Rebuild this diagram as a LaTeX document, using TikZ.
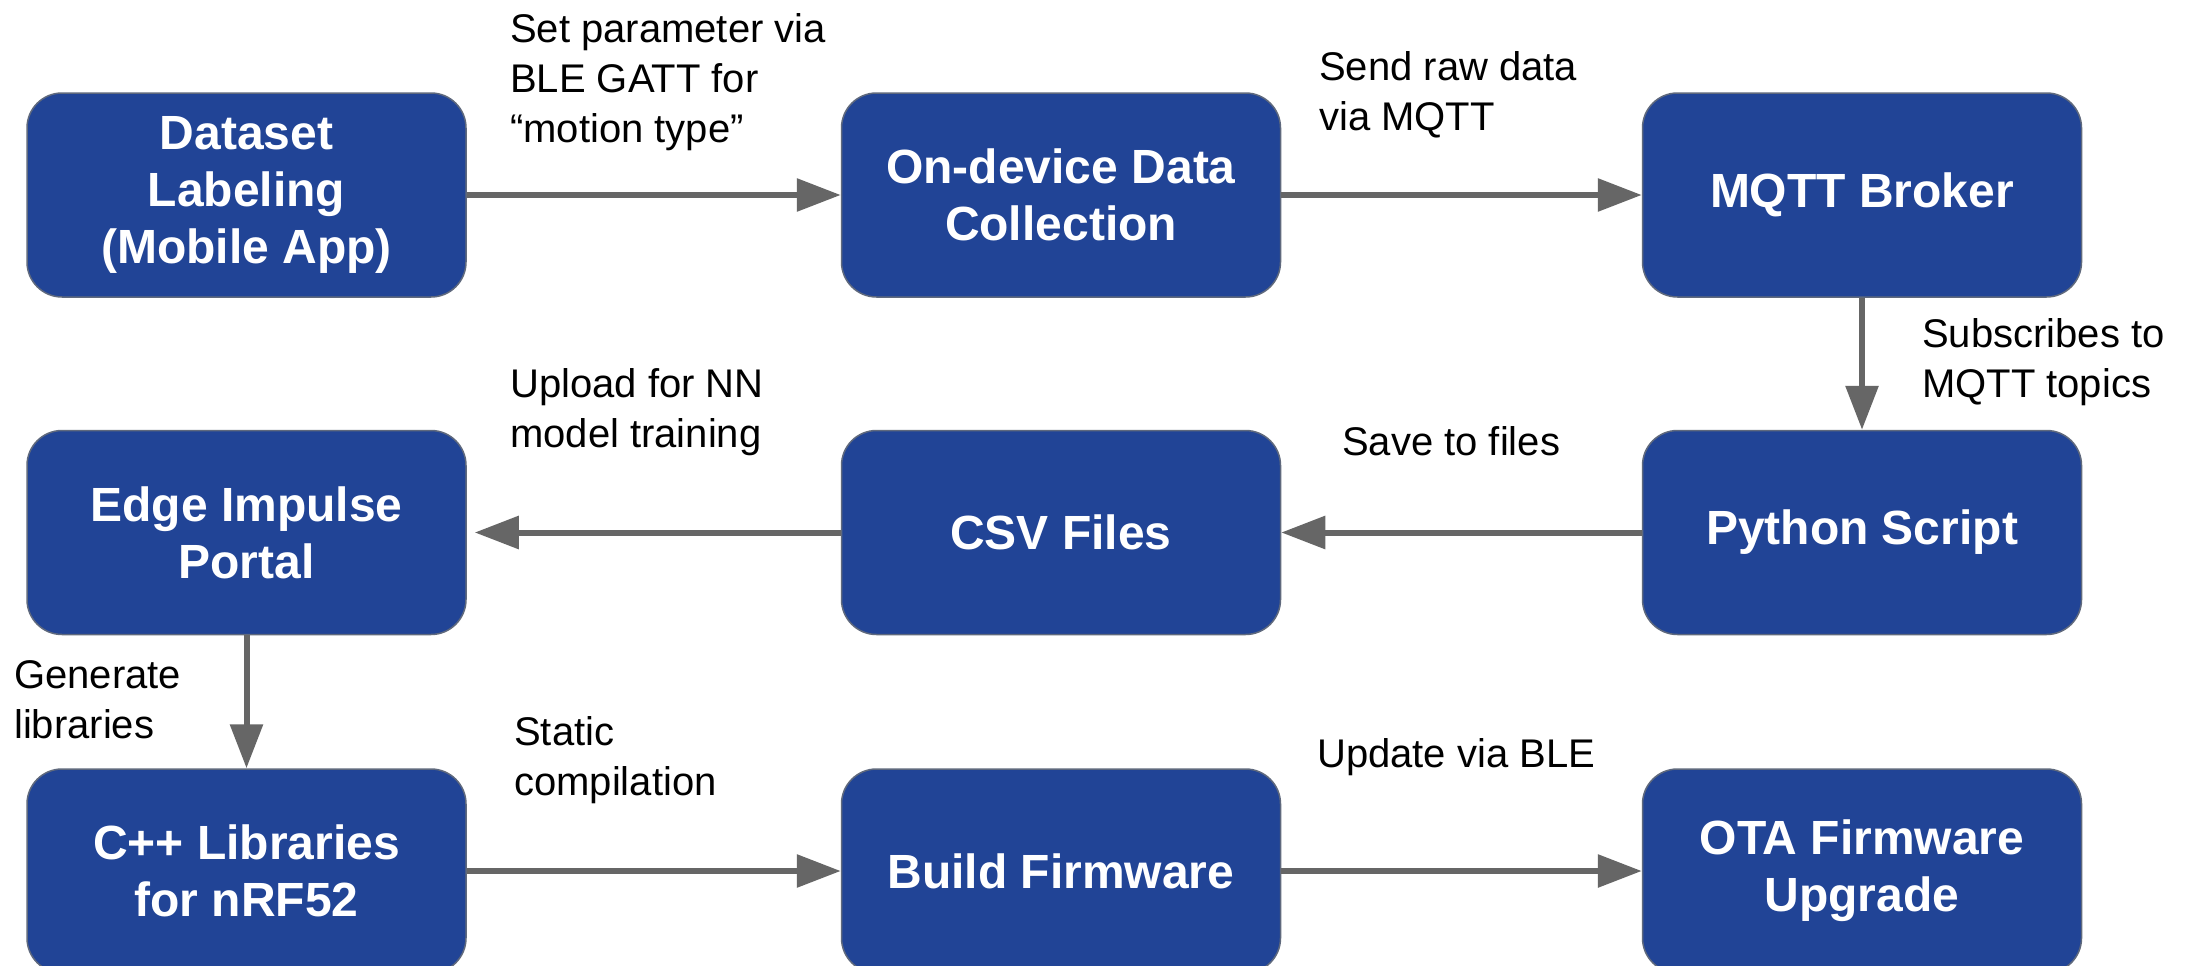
\documentclass[tikz,border=0pt]{standalone}
\usepackage{fontspec}
\setmainfont{Liberation Sans}
\usetikzlibrary{arrows.meta}
\definecolor{boxblue}{RGB}{33,68,150}
\definecolor{boxedge}{RGB}{95,105,125}
\definecolor{arrowgray}{RGB}{102,102,102}
\begin{document}
\begin{tikzpicture}[x=1pt,y=-1pt,
  proc/.style={draw=boxedge, line width=1.5pt, fill=boxblue, rounded corners=35pt,
    minimum width=439pt, minimum height=204pt, text=white,
    font=\fontsize{48}{57}\selectfont\bfseries, align=center, inner sep=0pt},
  lbl/.style={font=\fontsize{40}{50}\selectfont, align=left, inner sep=0pt, anchor=base west},
  flow/.style={draw=arrowgray, line width=6pt, -{Triangle[length=44pt,width=32pt]}}]
\clip (0,0) rectangle (2203,966);
\fill[white] (0,0) rectangle (2203,966);
% boxes
\node[proc] (ds)  at (246.5,195)   {Dataset\\Labeling\\(Mobile App)};
\node[proc] (od)  at (1061,195)    {On-device Data\\Collection};
\node[proc] (mq)  at (1862,195)    {MQTT Broker};
\node[proc] (ei)  at (246.5,532.5) {Edge Impulse\\Portal};
\node[proc] (csv) at (1061,532.5)  {CSV Files};
\node[proc] (py)  at (1862,532.5)  {Python Script};
\node[proc] (cpp) at (246.5,871)   {C++ Libraries\\for nRF52};
\node[proc] (bf)  at (1061,871)    {Build Firmware};
\node[proc] (ota) at (1862,871)    {OTA Firmware\\Upgrade};
% connectors
\draw[flow] (ds) -- (od);
\draw[flow] (od) -- (mq);
\draw[flow] (mq) -- (py);
\draw[flow] (py) -- (csv);
\draw[flow, shorten >=8pt] (csv) -- (ei);
\draw[flow] (ei) -- (cpp);
\draw[flow] (cpp) -- (bf);
\draw[flow] (bf) -- (ota);
% labels (anchor = baseline of last line)
\node[lbl] (l1) at (510,142)  {Set parameter via\\BLE GATT for\\“motion type”};
\node[lbl] (l2) at (1319,130) {Send raw data\\via MQTT};
\node[lbl] (l3) at (1922,397) {Subscribes to\\MQTT topics};
\node[lbl] (l4) at (1342,455) {Save to files};
\node[lbl] (l5) at (510,447)  {Upload for NN\\model training};
\node[lbl] (l6) at (14,738)   {Generate\\libraries};
\node[lbl] (l7) at (514,795)  {Static\\compilation};
\node[lbl] (l8) at (1317,767) {Update via BLE};
\end{tikzpicture}
\end{document}
